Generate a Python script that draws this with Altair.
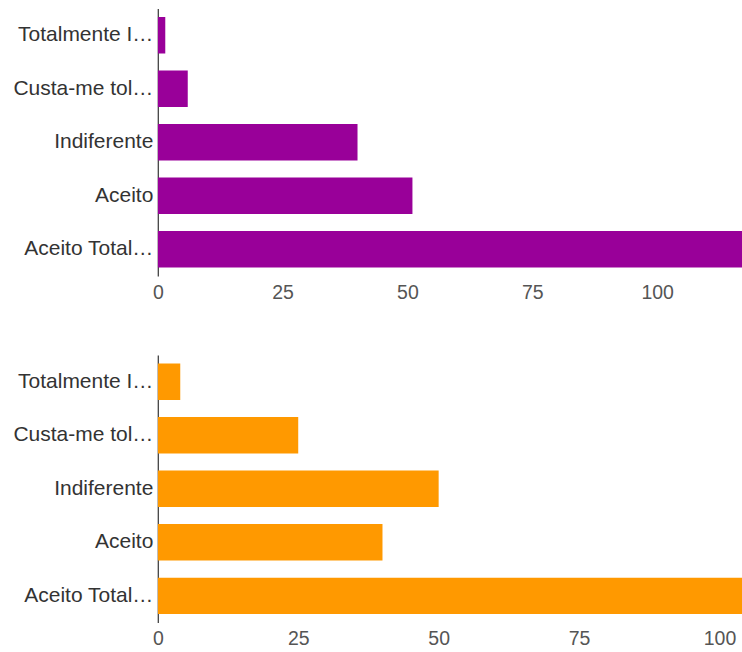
import altair as alt
import pandas as pd

categories = ["Totalmente I…", "Custa-me tol…", "Indiferente", "Aceito", "Aceito Total…"]
values_top = [1.5, 6, 40, 51, 125]
values_bottom = [4, 25, 50, 40, 112]
tick_values = [0, 25, 50, 75, 100]
domain_top = [0, 117]
domain_bottom = [0, 104]
colors = ["#990099", "#ff9900"]

FONT = "Liberation Sans"


def panel(vals, dom, color):
    df = pd.DataFrame({"cat": categories, "val": vals})
    return (
        alt.Chart(df)
        .mark_bar(color=color, clip=True)
        .encode(
            x=alt.X(
                "val:Q",
                scale=alt.Scale(domain=dom, nice=False, zero=True),
                axis=alt.Axis(
                    values=tick_values,
                    title=None,
                    grid=False,
                    domain=False,
                    ticks=False,
                    labelFlush=False,
                    labelPadding=7,
                    labelFontSize=19.5,
                    labelColor="#555555",
                    labelFont=FONT,
                ),
            ),
            y=alt.Y(
                "cat:N",
                sort=categories,
                scale=alt.Scale(paddingInner=0.32, paddingOuter=0.16),
                axis=alt.Axis(
                    title=None,
                    ticks=False,
                    domain=True,
                    domainColor="#333333",
                    domainWidth=1.2,
                    labelPadding=5,
                    labelFontSize=21,
                    labelColor="#333333",
                    labelFont=FONT,
                    labelLimit=300,
                ),
            ),
        )
        .properties(width=585, height=268)
    )


chart = (
    alt.vconcat(
        panel(values_top, domain_top, colors[0]),
        panel(values_bottom, domain_bottom, colors[1]),
        spacing=53,
    )
    .properties(
        padding={"left": 12, "top": 8, "right": 0, "bottom": 0},
        background="white",
    )
    .configure_view(strokeWidth=0, stroke="transparent")
)

chart.save("out.html", embed_options={"renderer": "svg", "actions": False})
